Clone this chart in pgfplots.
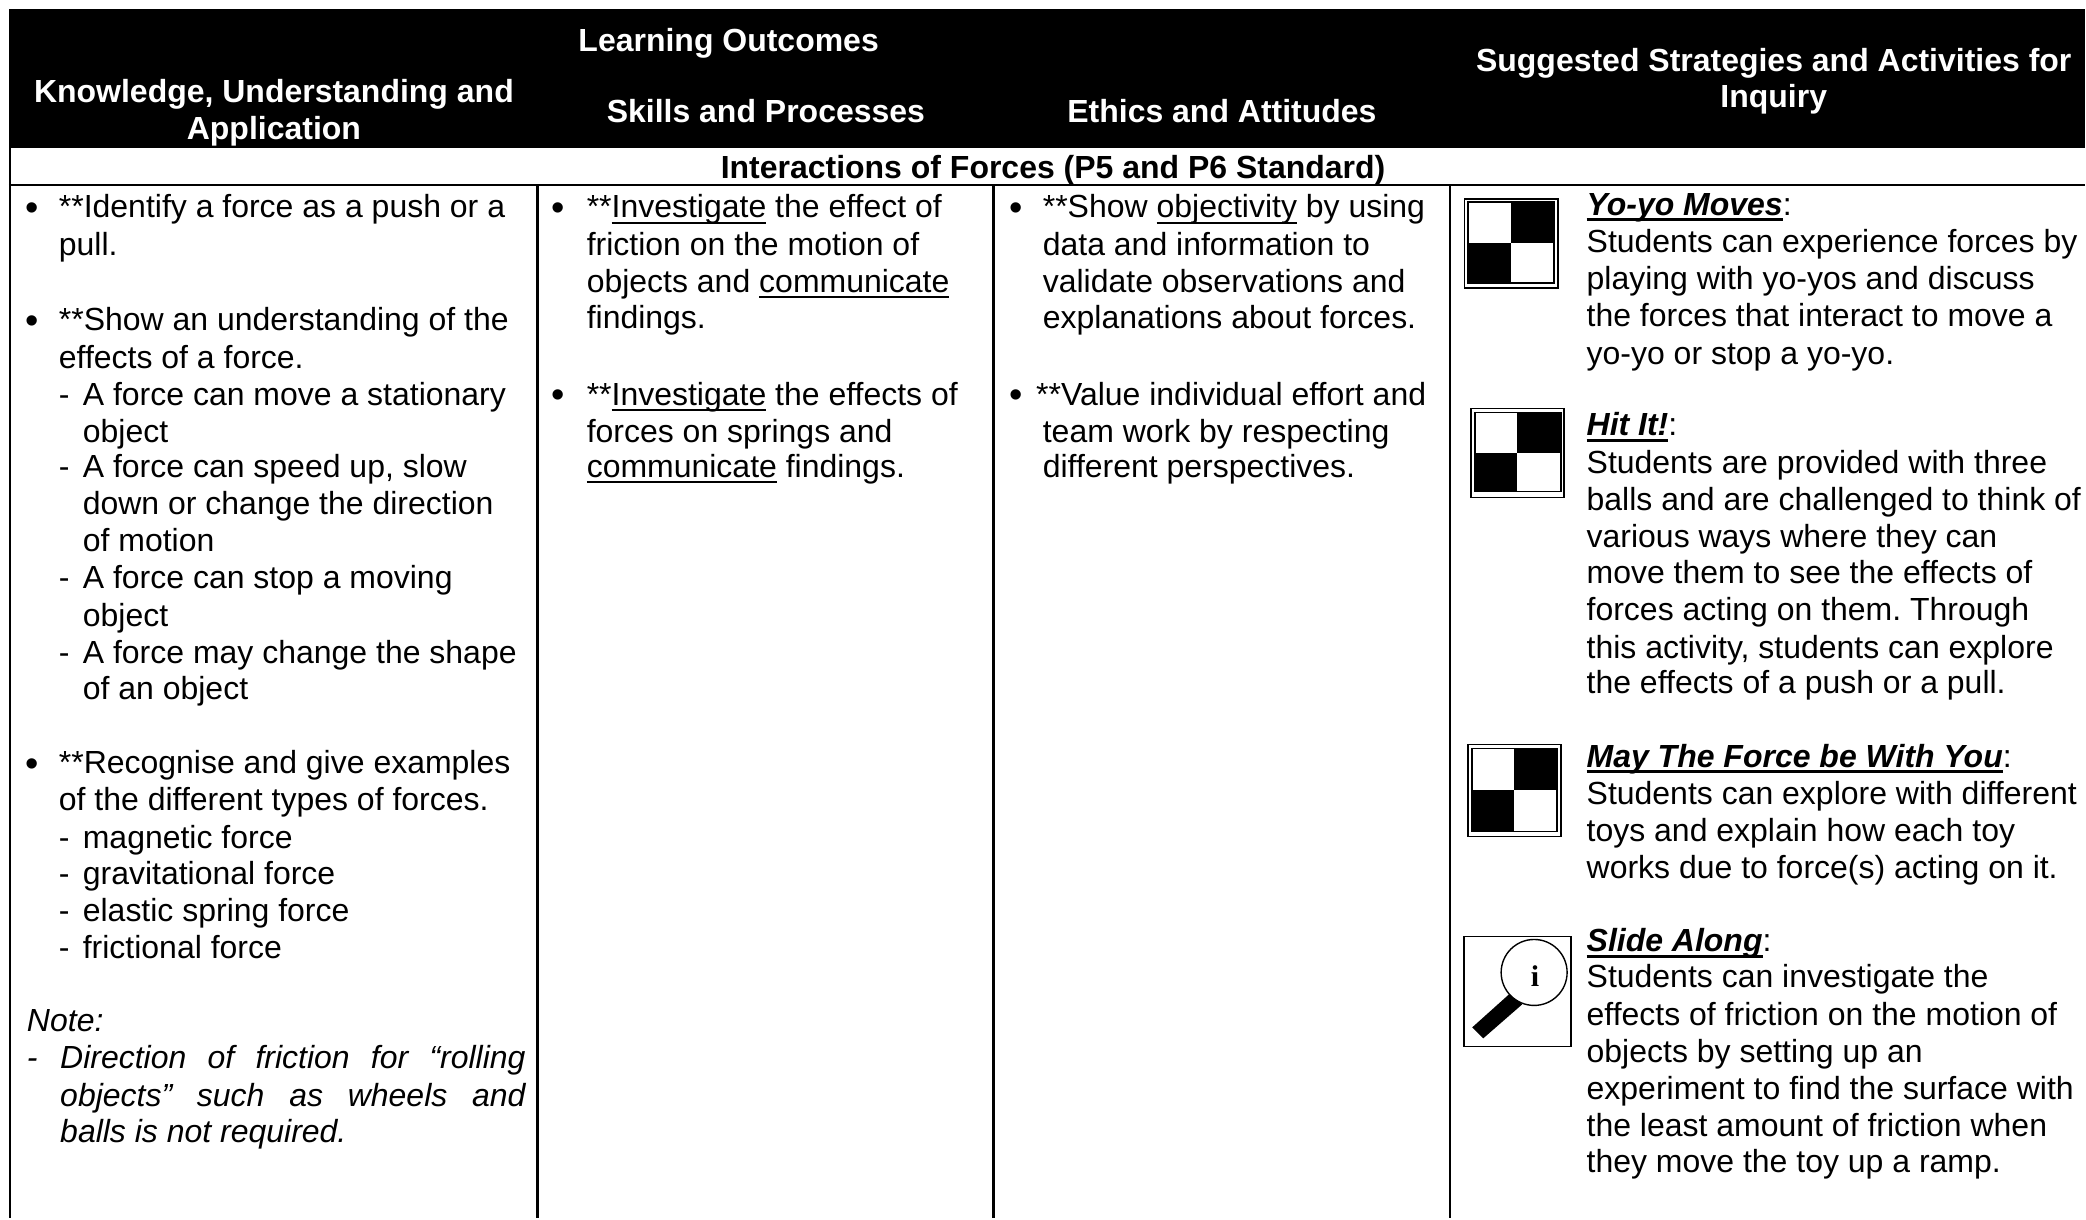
\documentclass[border=0pt]{standalone}
\usepackage{pgfplots}
\pgfplotsset{compat=1.18}
\usepackage{fontspec}
\setmainfont{Liberation Sans}
\newfontfamily\ser{Liberation Serif}
\frenchspacing
\newcommand\ul[1]{\setbox0\hbox{#1}\rlap{\rule[-3pt]{\wd0}{1pt}}\box0\relax}
\newcommand\ulb[1]{\setbox0\hbox{\bfseries\itshape #1}\rlap{\rule[-3pt]{\wd0}{1.6pt}}\box0\relax}
\newcommand\fs{\fontsize{16}{18}\selectfont}
\newcommand\TT[3]{\node[anchor=base west,inner sep=0pt,font=\fs] at (axis cs:{#1*1.3304},{#2*1.3304+10.5}) {#3};}
\newcommand\CC[3]{\node[anchor=base,inner sep=0pt,font=\fs\bfseries] at (axis cs:{#1*1.3304},{#2*1.3304+10.5}) {#3};}
\newcommand\BL[2]{\node[anchor=center,inner sep=0pt,font=\fontsize{19}{19}\selectfont] at (axis cs:{#1*1.3304},{#2*1.3304+4}) {•};}
\newcommand\RR[5]{\addplot[fill=#5,draw=none,forget plot] coordinates {(#1,#2)(#3,#2)(#3,#4)(#1,#4)} --cycle;}
\newcommand\FR[5]{\addplot[draw=black,fill=none,line width=#5,forget plot] coordinates {(#1,#2)(#3,#2)(#3,#4)(#1,#4)} --cycle;}
\newcommand\LN[5]{\addplot[black,line width=#5,forget plot] coordinates {(#1,#2)(#3,#4)};}
\newcommand\CK[8]{\FR{#1}{#2}{#3}{#4}{0.7pt}\FR{#5}{#6}{#7}{#8}{0.7pt}}
\begin{document}
\begin{tikzpicture}
\begin{axis}[scale only axis,width=1043pt,height=609.5pt,xmin=0,xmax=2086,ymin=0,ymax=1219,y dir=reverse,hide axis,clip=false,no marks]
\RR{0}{0}{2086}{1219}{white}
% header
\RR{9}{9}{2086}{148}{black}
\LN{10}{148}{10}{1219}{1.3pt}
\LN{9}{185}{2086}{185}{1.2pt}
\LN{538}{185}{538}{1219}{1.3pt}
\LN{994}{185}{994}{1219}{1.3pt}
\LN{1451}{185}{1451}{1219}{1.3pt}
% icons
\CK{1465.5}{199}{1559}{288}{1469}{202}{1555}{283}
\RR{1512}{203}{1555}{243}{black}\RR{1469}{243}{1512}{283}{black}
\CK{1472}{409}{1565}{498}{1476}{413}{1562}{492}
\RR{1518}{413}{1562}{453}{black}\RR{1476}{453}{1518}{492}{black}
\CK{1469}{745}{1562}{837}{1473}{749}{1558}{832}
\RR{1515}{749}{1558}{790}{black}\RR{1473}{790}{1515}{832}{black}
\FR{1465}{937}{1572}{1047}{0.9pt}
\addplot[fill=black,draw=none,forget plot] coordinates {(1512,993)(1473,1028)(1484,1039)(1523,1005)} --cycle;
\draw[black,line width=0.7pt,fill=white] (axis cs:1535,973) circle [radius=16.5pt];
\node[font=\ser\fontsize{15}{18}\selectfont\bfseries,inner sep=0pt,anchor=base] at (axis cs:1536,987) {i};
% header text
\begin{scope}[white]
\CC{548}{31}{Learning Outcomes}
\CC{206}{69}{Knowledge, Understanding and}
\CC{206}{97}{Application}
\CC{576}{84}{Skills and Processes}
\CC{919}{84}{Ethics and Attitudes}
\CC{1334}{46}{Suggested Strategies and Activities for}
\CC{1334}{73}{Inquiry}
\end{scope}
\CC{792}{126}{Interactions of Forces (P5 and P6 Standard)}
% column 1
\BL{24}{156}\TT{44}{156}{**Identify a force as a push or a}
\TT{44}{184}{pull.}
\BL{24}{241}\TT{44}{241}{**Show an understanding of the}
\TT{44}{269}{effects of a force.}
\TT{44}{297}{-}\TT{62}{297}{A force can move a stationary}
\TT{62}{325}{object}
\TT{44}{351}{-}\TT{62}{351}{A force can speed up, slow}
\TT{62}{379}{down or change the direction}
\TT{62}{407}{of motion}
\TT{44}{435}{-}\TT{62}{435}{A force can stop a moving}
\TT{62}{463}{object}
\TT{44}{491}{-}\TT{62}{491}{A force may change the shape}
\TT{62}{518}{of an object}
\BL{24}{574}\TT{44}{574}{**Recognise and give examples}
\TT{44}{602}{of the different types of forces.}
\TT{44}{630}{-}\TT{62}{630}{magnetic force}
\TT{44}{657}{-}\TT{62}{657}{gravitational force}
\TT{44}{685}{-}\TT{62}{685}{elastic spring force}
\TT{44}{713}{-}\TT{62}{713}{frictional force}
\TT{20}{768}{\itshape Note:}
\TT{20}{796}{\itshape -}
\TT{45}{796}{\itshape\makebox[232.8pt][s]{Direction of friction for “rolling}}
\TT{45}{824}{\itshape\makebox[232.8pt][s]{objects” such as wheels and}}
\TT{45}{851}{\itshape balls is not required.}
% column 2
\BL{420}{156}\TT{441}{156}{**\ul{Investigate} the effect of}
\TT{441}{184}{friction on the motion of}
\TT{441}{212}{objects and \ul{communicate}}
\TT{441}{239}{findings.}
\BL{420}{297}\TT{441}{297}{**\ul{Investigate} the effects of}
\TT{441}{325}{forces on springs and}
\TT{441}{351}{\ul{communicate} findings.}
% column 3
\BL{764}{156}\TT{784}{156}{**Show \ul{objectivity} by using}
\TT{784}{184}{data and information to}
\TT{784}{212}{validate observations and}
\TT{784}{239}{explanations about forces.}
\BL{764}{297}\TT{779}{297}{**Value individual effort and}
\TT{784}{325}{team work by respecting}
\TT{784}{351}{different perspectives.}
% column 4
\TT{1193}{154}{\ulb{Yo-yo Moves}:}
\TT{1193}{182}{Students can experience forces by}
\TT{1193}{210}{playing with yo-yos and discuss}
\TT{1193}{238}{the forces that interact to move a}
\TT{1193}{266}{yo-yo or stop a yo-yo.}
\TT{1193}{320}{\ulb{Hit It!}:}
\TT{1193}{348}{Students are provided with three}
\TT{1193}{376}{balls and are challenged to think of}
\TT{1193}{404}{various ways where they can}
\TT{1193}{431}{move them to see the effects of}
\TT{1193}{459}{forces acting on them. Through}
\TT{1193}{487}{this activity, students can explore}
\TT{1193}{514}{the effects of a push or a pull.}
\TT{1193}{569}{\ulb{May The Force be With You}:}
\TT{1193}{597}{Students can explore with different}
\TT{1193}{625}{toys and explain how each toy}
\TT{1193}{653}{works due to force(s) acting on it.}
\TT{1193}{708}{\ulb{Slide Along}:}
\TT{1193}{735}{Students can investigate the}
\TT{1193}{763}{effects of friction on the motion of}
\TT{1193}{791}{objects by setting up an}
\TT{1193}{819}{experiment to find the surface with}
\TT{1193}{847}{the least amount of friction when}
\TT{1193}{874}{they move the toy up a ramp.}
\end{axis}
\end{tikzpicture}
\end{document}
